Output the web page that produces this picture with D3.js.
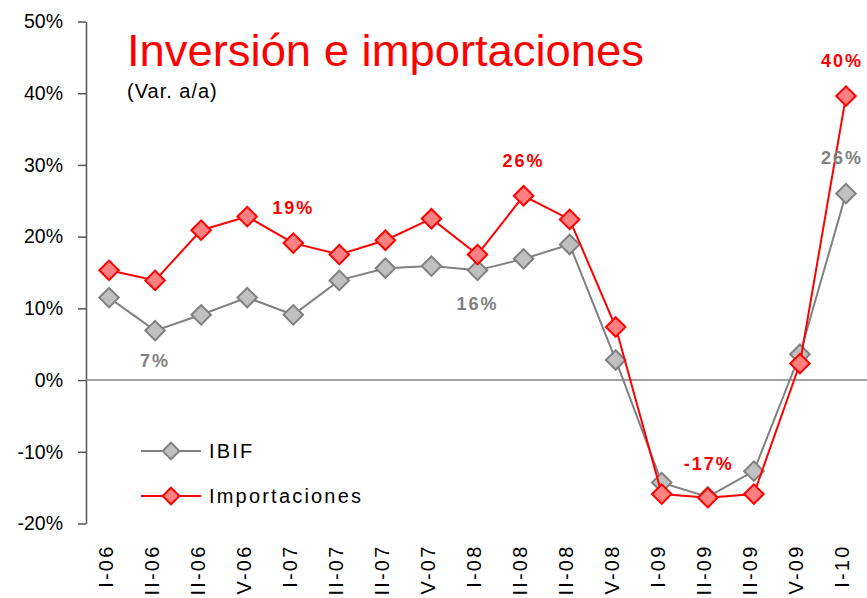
<!DOCTYPE html>
<html><head><meta charset="utf-8">
<script src="https://cdn.jsdelivr.net/npm/d3@7"></script>
<style>html,body{margin:0;padding:0;background:#fff;overflow:hidden}</style>
</head><body>
<svg id="c" width="867" height="598"></svg>
<script>
const categories = ["I-06","II-06","III-06","IV-06","I-07","II-07","III-07","IV-07","I-08","II-08","III-08","IV-08","I-09","II-09","III-09","IV-09","I-10"];
const ibif = [11.5,6.9,9.1,11.5,9.1,13.9,15.6,15.9,15.3,16.9,18.9,2.8,-14.3,-16.3,-12.7,3.6,26.0];
const importaciones = [15.3,13.9,20.9,22.8,19.1,17.5,19.5,22.5,17.5,25.7,22.4,7.4,-15.9,-16.4,-15.9,2.3,39.6];
const yTicks = [-20,-10,0,10,20,30,40,50];
const annotations = [
  {series:"ibif", i:1, text:"7%", dx:0, dy:30},
  {series:"imp", i:4, text:"19%", dx:0, dy:-35},
  {series:"ibif", i:8, text:"16%", dx:0, dy:33},
  {series:"imp", i:9, text:"26%", dx:0, dy:-35},
  {series:"imp", i:13, text:"-17%", dx:1, dy:-34},
  {series:"ibif", i:16, text:"26%", dx:-4, dy:-36},
  {series:"imp", i:16, text:"40%", dx:-4, dy:-35}
];

const svg = d3.select("#c");
const x = d3.scalePoint().domain(categories).range([86, 86 + 17*46.06]).padding(0.5);
const y = d3.scaleLinear().domain([-20, 50]).range([523.5, 21.5]);

// y axis
const yAxis = d3.axisLeft(y).tickValues(yTicks).tickFormat(d => d + "%").tickSize(8).tickSizeOuter(0);
const ga = svg.append("g").attr("transform","translate(86,0)").call(yAxis);
ga.select(".domain").attr("stroke","#555").attr("stroke-width",1.5);
ga.selectAll(".tick line").attr("stroke","#555").attr("stroke-width",1.5);
ga.selectAll(".tick text").attr("x",-23).attr("font-family","Liberation Sans, Arial, sans-serif").attr("font-size",19.5).attr("fill","#000");

// zero line
svg.append("line").attr("x1",86).attr("x2",867).attr("y1",y(0)).attr("y2",y(0)).attr("stroke","#808080").attr("stroke-width",1.5);

// x labels
const xAxis = d3.axisBottom(x).tickSize(0);
const gx = svg.append("g").attr("transform","translate(0,"+y(-20)+")").call(xAxis);
gx.select(".domain").remove();
gx.selectAll(".tick text")
  .attr("font-family","Liberation Sans, Arial, sans-serif").attr("font-size",20).attr("fill","#000")
  .attr("letter-spacing",2.2)
  .attr("text-anchor","end").attr("transform","rotate(-90)")
  .attr("x",-21).attr("y",-4).attr("dy","0.35em");

// title
svg.append("text").attr("x",127).attr("y",66).text("Inversión e importaciones")
  .attr("font-family","Liberation Sans, Arial, sans-serif").attr("font-size",44).attr("fill","#ff0000")
  .attr("textLength",517).attr("lengthAdjust","spacingAndGlyphs");
svg.append("text").attr("x",127).attr("y",98).text("(Var. a/a)")
  .attr("font-family","Liberation Sans, Arial, sans-serif").attr("font-size",20).attr("fill","#000")
  .attr("letter-spacing",1);

const series = [
  {key:"ibif", name:"IBIF", values:ibif, stroke:"#808080", fill:"#c0c0c0"},
  {key:"imp", name:"Importaciones", values:importaciones, stroke:"#ff0000", fill:"#ff8080"}
];
const line = d3.line().x((d,i)=>x(categories[i])).y(d=>y(d));
const diamond = d3.symbol().type(d3.symbolSquare).size(190);
series.forEach(s => {
  svg.append("path").datum(s.values).attr("d",line).attr("fill","none").attr("stroke",s.stroke).attr("stroke-width",2);
  svg.append("g").selectAll("path").data(s.values).join("path")
    .attr("d",diamond)
    .attr("transform",(d,i)=>"translate("+x(categories[i])+","+y(d)+") rotate(45)")
    .attr("fill",s.fill).attr("stroke",s.stroke).attr("stroke-width",2);
});

// annotations
annotations.forEach(a => {
  const s = series.find(q=>q.key===a.series);
  svg.append("text")
    .attr("x", x(categories[a.i]) + a.dx)
    .attr("y", y(s.values[a.i]) + a.dy)
    .attr("text-anchor","middle").attr("dy","0.35em")
    .attr("font-family","Liberation Sans, Arial, sans-serif").attr("font-weight","bold").attr("font-size",18)
    .attr("letter-spacing",2)
    .attr("fill",s.stroke).text(a.text);
});

// legend
const legY = [451, 496];
series.forEach((s,k) => {
  const g = svg.append("g");
  g.append("line").attr("x1",141).attr("x2",201).attr("y1",legY[k]).attr("y2",legY[k]).attr("stroke",s.stroke).attr("stroke-width",2);
  g.append("path").attr("d",d3.symbol().type(d3.symbolSquare).size(140))
    .attr("transform","translate(171,"+legY[k]+") rotate(45)")
    .attr("fill",s.fill).attr("stroke",s.stroke).attr("stroke-width",2);
  g.append("text").attr("x",209).attr("y",legY[k]).attr("dy","0.35em").text(s.name)
    .attr("font-family","Liberation Sans, Arial, sans-serif").attr("font-size",20).attr("fill","#000")
    .attr("letter-spacing",2.2);
});
</script>
</body></html>
